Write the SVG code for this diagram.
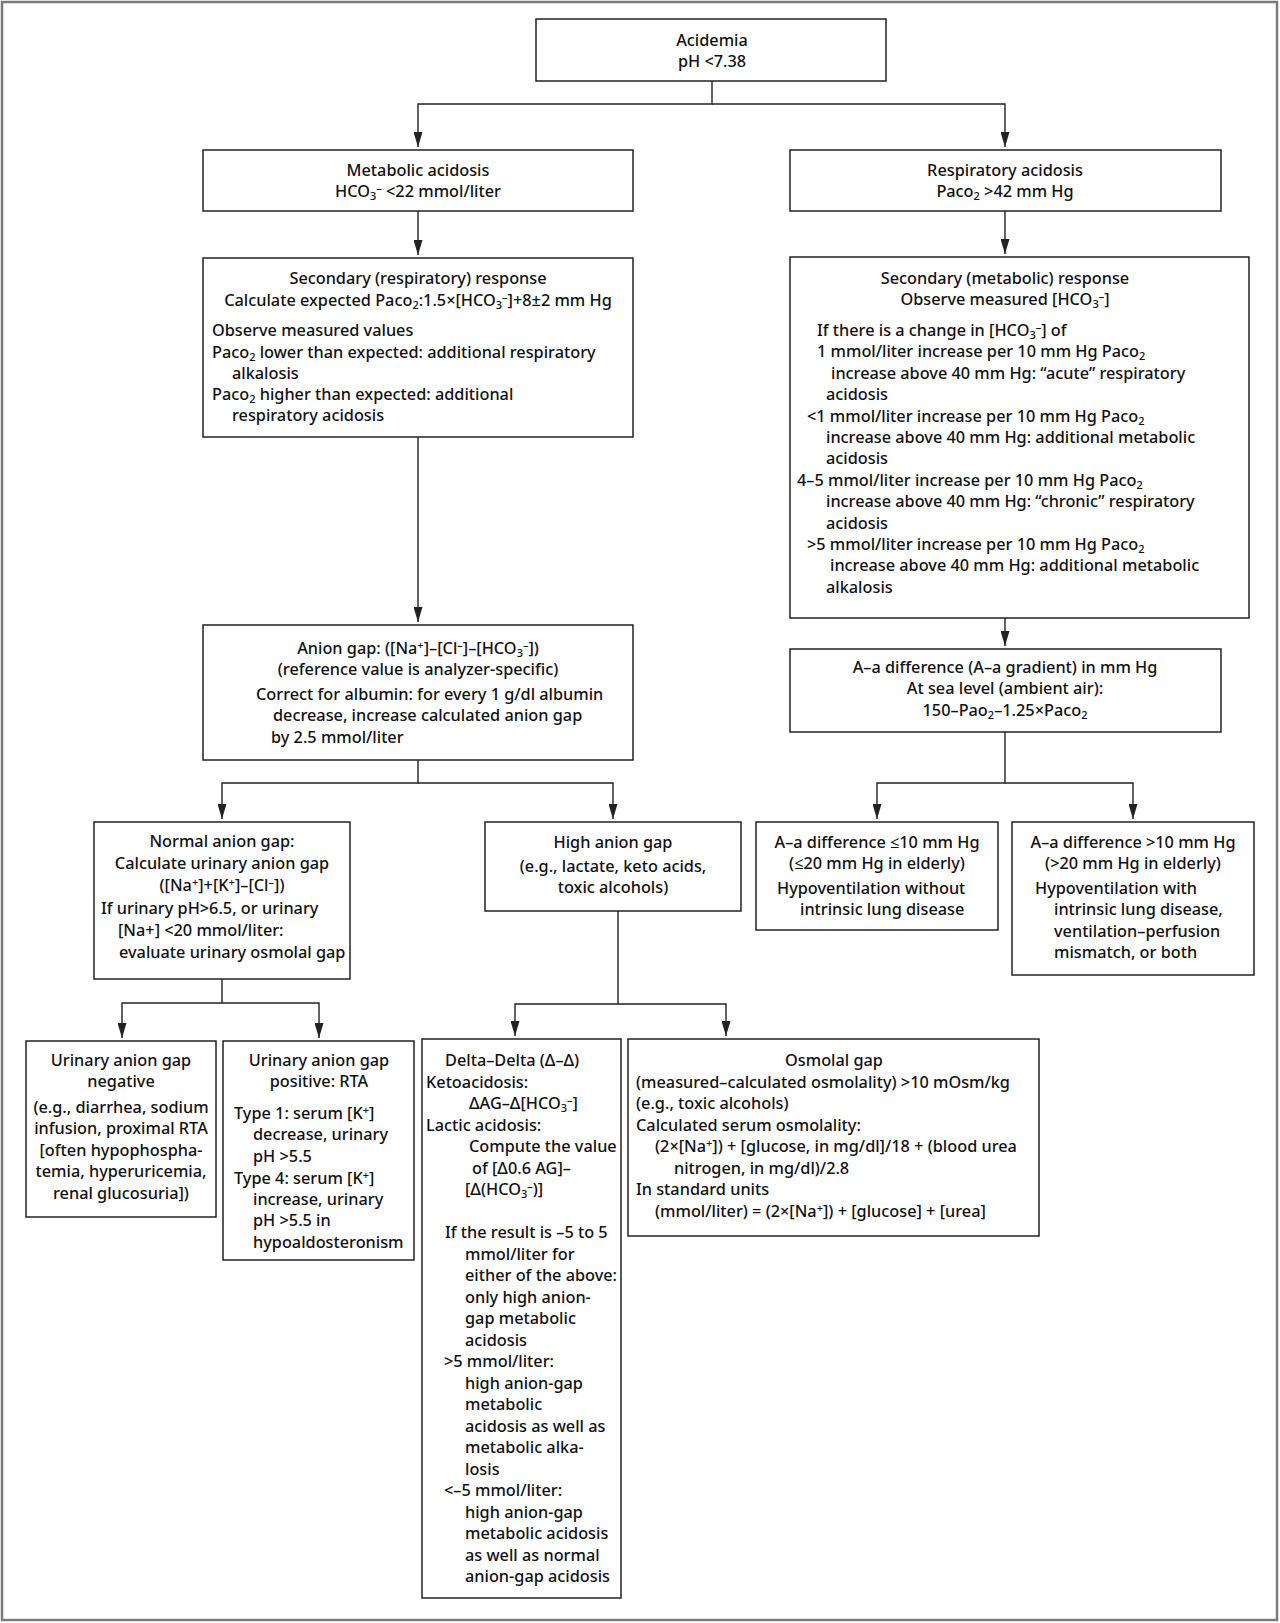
<svg xmlns="http://www.w3.org/2000/svg" width="1280" height="1623" viewBox="0 0 1280 1623">
<style>
.t{font-family:"Noto Sans","Open Sans",sans-serif;font-size:16.3px;font-weight:500;fill:#111}
.c{text-anchor:middle}
.sb{font-size:11px;baseline-shift:-3px}
.sp{font-size:11px;baseline-shift:5px}
.b{fill:#fff;stroke:#222;stroke-width:1.5}
.k{fill:none;stroke:#222;stroke-width:1.4;marker-end:url(#ah)}
</style>
<defs>
<marker id="ah" markerUnits="userSpaceOnUse" markerWidth="15" markerHeight="9" refX="15" refY="4.5" orient="auto">
<path d="M0,0 L15,4.5 L0,9 z" fill="#222"/>
</marker>
</defs>
<rect x="0" y="0" width="1280" height="1623" fill="#fff"/>
<rect x="2" y="2" width="1275" height="1618" fill="none" stroke="#7a7a7a" stroke-width="2.5"/>
<g id="connectors">
<path class="k" d="M712,81 V104 H418 V147"/>
<path class="k" d="M712,104 H1005 V147"/>
<path class="k" d="M418,211 V255"/>
<path class="k" d="M1005,211 V254"/>
<path class="k" d="M418,437 V622"/>
<path class="k" d="M1005,618 V646"/>
<path class="k" d="M418,760 V783 H222 V819"/>
<path class="k" d="M418,783 H613 V819"/>
<path class="k" d="M1005,732 V783 H877 V819"/>
<path class="k" d="M1005,783 H1133 V819"/>
<path class="k" d="M222,979 V1003 H122 V1038"/>
<path class="k" d="M222,1003 H319 V1038"/>
<path class="k" d="M618,911 V1004 H515 V1036"/>
<path class="k" d="M618,1004 H726 V1036"/>
</g>
<g id="acidemia">
<rect class="b" x="536" y="19" width="350" height="62"/>
<text class="t c" x="712" y="46">Acidemia</text>
<text class="t c" x="712" y="67">pH &lt;7.38</text>
</g>
<g id="metabolic">
<rect class="b" x="203" y="150" width="430" height="61"/>
<text class="t c" x="418" y="176">Metabolic acidosis</text>
<text class="t c" x="418" y="197">HCO<tspan class="sb">3</tspan><tspan class="sp">–</tspan> &lt;22 mmol/liter</text>
</g>
<g id="respiratory">
<rect class="b" x="790" y="150" width="431" height="61"/>
<text class="t c" x="1005" y="176">Respiratory acidosis</text>
<text class="t c" x="1005" y="197">Paco<tspan class="sb">2</tspan> &gt;42 mm Hg</text>
</g>
<g id="secResp">
<rect class="b" x="203" y="258" width="430" height="179"/>
<text class="t c" x="418" y="284">Secondary (respiratory) response</text>
<text class="t c" x="418" y="306">Calculate expected Paco<tspan class="sb">2</tspan>:1.5×[HCO<tspan class="sb">3</tspan><tspan class="sp">–</tspan>]+8±2 mm Hg</text>
<text class="t" x="212" y="336">Observe measured values</text>
<text class="t" x="212" y="357.5">Paco<tspan class="sb">2</tspan> lower than expected: additional respiratory</text>
<text class="t" x="232" y="379">alkalosis</text>
<text class="t" x="212" y="400">Paco<tspan class="sb">2</tspan> higher than expected: additional</text>
<text class="t" x="232" y="421">respiratory acidosis</text>
</g>
<g id="secMet">
<rect class="b" x="790" y="257" width="459" height="361"/>
<text class="t c" x="1005" y="284">Secondary (metabolic) response</text>
<text class="t c" x="1005" y="305">Observe measured [HCO<tspan class="sb">3</tspan><tspan class="sp">–</tspan>]</text>
<text class="t" x="817" y="336">If there is a change in [HCO<tspan class="sb">3</tspan><tspan class="sp">–</tspan>] of</text>
<text class="t" x="817" y="357.4">1 mmol/liter increase per 10 mm Hg Paco<tspan class="sb">2</tspan></text>
<text class="t" x="831" y="378.8">increase above 40 mm Hg: “acute” respiratory</text>
<text class="t" x="826" y="400.2">acidosis</text>
<text class="t" x="807" y="421.6">&lt;1 mmol/liter increase per 10 mm Hg Paco<tspan class="sb">2</tspan></text>
<text class="t" x="826" y="443">increase above 40 mm Hg: additional metabolic</text>
<text class="t" x="826" y="464.4">acidosis</text>
<text class="t" x="797" y="485.8">4–5 mmol/liter increase per 10 mm Hg Paco<tspan class="sb">2</tspan></text>
<text class="t" x="826" y="507.2">increase above 40 mm Hg: “chronic” respiratory</text>
<text class="t" x="826" y="528.6">acidosis</text>
<text class="t" x="807" y="550">&gt;5 mmol/liter increase per 10 mm Hg Paco<tspan class="sb">2</tspan></text>
<text class="t" x="830" y="571.4">increase above 40 mm Hg: additional metabolic</text>
<text class="t" x="826" y="592.8">alkalosis</text>
</g>
<g id="anionGap">
<rect class="b" x="203" y="625" width="430" height="135"/>
<text class="t c" x="418" y="654">Anion gap: ([Na<tspan class="sp">+</tspan>]–[Cl<tspan class="sp">–</tspan>]–[HCO<tspan class="sb">3</tspan><tspan class="sp">–</tspan>])</text>
<text class="t c" x="418" y="675">(reference value is analyzer-specific)</text>
<text class="t" x="256" y="700">Correct for albumin: for every 1 g/dl albumin</text>
<text class="t" x="273" y="721">decrease, increase calculated anion gap</text>
<text class="t" x="271" y="743">by 2.5 mmol/liter</text>
</g>
<g id="aaDiff">
<rect class="b" x="790" y="649" width="431" height="83"/>
<text class="t c" x="1005" y="673">A–a difference (A–a gradient) in mm Hg</text>
<text class="t c" x="1005" y="694">At sea level (ambient air):</text>
<text class="t c" x="1005" y="716">150–Pao<tspan class="sb">2</tspan>–1.25×Paco<tspan class="sb">2</tspan></text>
</g>
<g id="normalAG">
<rect class="b" x="94" y="822" width="256" height="157"/>
<text class="t c" x="222" y="847">Normal anion gap:</text>
<text class="t c" x="222" y="869">Calculate urinary anion gap</text>
<text class="t c" x="222" y="891">([Na<tspan class="sp">+</tspan>]+[K<tspan class="sp">+</tspan>]–[Cl<tspan class="sp">–</tspan>])</text>
<text class="t" x="101" y="914">If urinary pH&gt;6.5, or urinary</text>
<text class="t" x="118" y="936">[Na+] &lt;20 mmol/liter:</text>
<text class="t" x="119" y="958">evaluate urinary osmolal gap</text>
</g>
<g id="highAG">
<rect class="b" x="485" y="822" width="256" height="89"/>
<text class="t c" x="613" y="848">High anion gap</text>
<text class="t c" x="613" y="872">(e.g., lactate, keto acids,</text>
<text class="t c" x="613" y="893">toxic alcohols)</text>
</g>
<g id="aaLow">
<rect class="b" x="756" y="822" width="242" height="108"/>
<text class="t c" x="877" y="848">A–a difference ≤10 mm Hg</text>
<text class="t c" x="877" y="869">(≤20 mm Hg in elderly)</text>
<text class="t" x="777" y="894">Hypoventilation without</text>
<text class="t" x="800" y="915">intrinsic lung disease</text>
</g>
<g id="aaHigh">
<rect class="b" x="1012" y="822" width="242" height="153"/>
<text class="t c" x="1133" y="848">A–a difference &gt;10 mm Hg</text>
<text class="t c" x="1133" y="869">(&gt;20 mm Hg in elderly)</text>
<text class="t" x="1035" y="894">Hypoventilation with</text>
<text class="t" x="1054" y="915">intrinsic lung disease,</text>
<text class="t" x="1054" y="937">ventilation–perfusion</text>
<text class="t" x="1054" y="958">mismatch, or both</text>
</g>
<g id="urinaryNeg">
<rect class="b" x="26" y="1041" width="190" height="176"/>
<text class="t c" x="121" y="1066">Urinary anion gap</text>
<text class="t c" x="121" y="1087">negative</text>
<text class="t c" x="121" y="1113">(e.g., diarrhea, sodium</text>
<text class="t c" x="121" y="1134">infusion, proximal RTA</text>
<text class="t c" x="121" y="1156">[often hypophospha-</text>
<text class="t c" x="121" y="1177">temia, hyperuricemia,</text>
<text class="t c" x="121" y="1199">renal glucosuria])</text>
</g>
<g id="urinaryPos">
<rect class="b" x="223" y="1041" width="191" height="219"/>
<text class="t c" x="319" y="1066">Urinary anion gap</text>
<text class="t c" x="319" y="1087">positive: RTA</text>
<text class="t" x="234" y="1119">Type 1: serum [K<tspan class="sp">+</tspan>]</text>
<text class="t" x="253" y="1140">decrease, urinary</text>
<text class="t" x="253" y="1162">pH &gt;5.5</text>
<text class="t" x="234" y="1184">Type 4: serum [K<tspan class="sp">+</tspan>]</text>
<text class="t" x="253" y="1205">increase, urinary</text>
<text class="t" x="253" y="1226">pH &gt;5.5 in</text>
<text class="t" x="253" y="1248">hypoaldosteronism</text>
</g>
<g id="deltaDelta">
<rect class="b" x="422" y="1039" width="199" height="559"/>
<text class="t" x="445" y="1066">Delta–Delta (Δ–Δ)</text>
<text class="t" x="426" y="1087.5">Ketoacidosis:</text>
<text class="t" x="469" y="1109">ΔAG–Δ[HCO<tspan class="sb">3</tspan><tspan class="sp">–</tspan>]</text>
<text class="t" x="426" y="1130.5">Lactic acidosis:</text>
<text class="t" x="469" y="1152">Compute the value</text>
<text class="t" x="472" y="1173.5">of [Δ0.6 AG]–</text>
<text class="t" x="465" y="1195">[Δ(HCO<tspan class="sb">3</tspan><tspan class="sp">–</tspan>)]</text>
<text class="t" x="445" y="1238">If the result is –5 to 5</text>
<text class="t" x="465" y="1259.5">mmol/liter for</text>
<text class="t" x="465" y="1281">either of the above:</text>
<text class="t" x="465" y="1302.5">only high anion-</text>
<text class="t" x="465" y="1324">gap metabolic</text>
<text class="t" x="465" y="1345.5">acidosis</text>
<text class="t" x="444" y="1367">&gt;5 mmol/liter:</text>
<text class="t" x="465" y="1388.5">high anion-gap</text>
<text class="t" x="465" y="1410">metabolic</text>
<text class="t" x="465" y="1431.5">acidosis as well as</text>
<text class="t" x="465" y="1453">metabolic alka-</text>
<text class="t" x="465" y="1474.5">losis</text>
<text class="t" x="444" y="1496">&lt;–5 mmol/liter:</text>
<text class="t" x="465" y="1517.5">high anion-gap</text>
<text class="t" x="465" y="1539">metabolic acidosis</text>
<text class="t" x="465" y="1560.5">as well as normal</text>
<text class="t" x="465" y="1582">anion-gap acidosis</text>
</g>
<g id="osmolalGap">
<rect class="b" x="628" y="1039" width="411" height="197"/>
<text class="t c" x="834" y="1066">Osmolal gap</text>
<text class="t" x="636" y="1087.5">(measured–calculated osmolality) &gt;10 mOsm/kg</text>
<text class="t" x="636" y="1109">(e.g., toxic alcohols)</text>
<text class="t" x="636" y="1130.5">Calculated serum osmolality:</text>
<text class="t" x="655" y="1152">(2×[Na<tspan class="sp">+</tspan>]) + [glucose, in mg/dl]/18 + (blood urea</text>
<text class="t" x="674" y="1173.5">nitrogen, in mg/dl)/2.8</text>
<text class="t" x="636" y="1195">In standard units</text>
<text class="t" x="655" y="1216.5">(mmol/liter) = (2×[Na<tspan class="sp">+</tspan>]) + [glucose] + [urea]</text>
</g>
</svg>
